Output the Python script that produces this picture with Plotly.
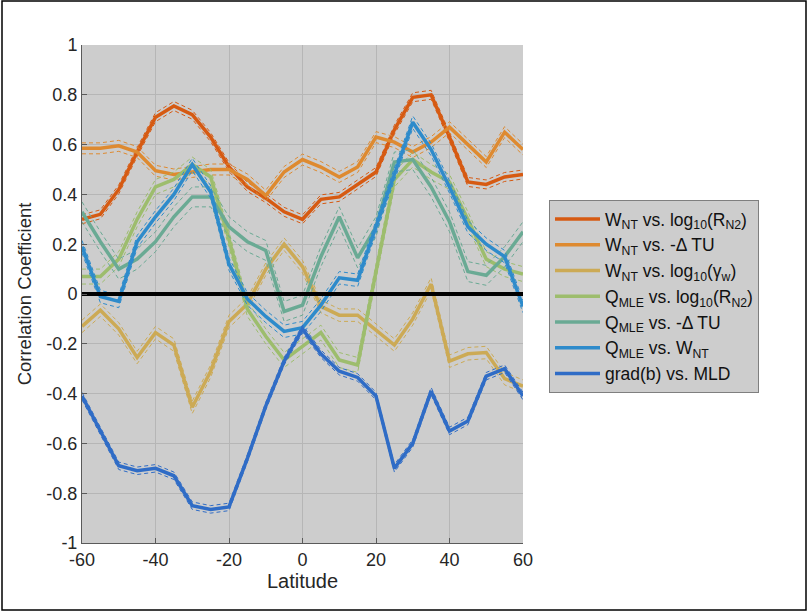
import plotly.graph_objects as go

lat = [-60, -55, -50, -45, -40, -35, -30, -25, -20, -15, -10, -5, 0,
       5, 10, 15, 20, 25, 30, 35, 40, 45, 50, 55, 60]

s_wnt_rn2 = [0.30, 0.32, 0.42, 0.57, 0.71, 0.755, 0.72, 0.63, 0.51, 0.43, 0.385, 0.33, 0.30,
             0.38, 0.39, 0.44, 0.49, 0.66, 0.79, 0.80, 0.63, 0.45, 0.44, 0.47, 0.48]
s_wnt_dtu = [0.585, 0.585, 0.595, 0.57, 0.495, 0.48, 0.49, 0.50, 0.50, 0.46, 0.395, 0.49, 0.54,
             0.51, 0.47, 0.51, 0.63, 0.61, 0.57, 0.61, 0.67, 0.60, 0.53, 0.65, 0.58]
s_wnt_gam = [-0.13, -0.065, -0.14, -0.255, -0.155, -0.205, -0.455, -0.31, -0.11, -0.04, 0.10, 0.20, 0.11,
             -0.05, -0.085, -0.085, -0.145, -0.205, -0.10, 0.04, -0.27, -0.24, -0.235, -0.34, -0.37]
s_q_rn2 = [0.07, 0.07, 0.14, 0.30, 0.43, 0.46, 0.52, 0.47, 0.22, -0.06, -0.17, -0.265, -0.21,
           -0.155, -0.265, -0.285, 0.09, 0.46, 0.54, 0.49, 0.45, 0.30, 0.14, 0.10, 0.08]
s_q_dtu = [0.33, 0.21, 0.10, 0.14, 0.21, 0.31, 0.39, 0.39, 0.27, 0.21, 0.175, -0.07, -0.045,
           0.15, 0.31, 0.145, 0.27, 0.53, 0.54, 0.43, 0.29, 0.09, 0.075, 0.15, 0.25]
s_q_wnt = [0.19, -0.01, -0.03, 0.21, 0.31, 0.40, 0.52, 0.41, 0.12, -0.02, -0.09, -0.15, -0.135,
           -0.045, 0.065, 0.055, 0.27, 0.48, 0.69, 0.58, 0.43, 0.27, 0.20, 0.15, -0.05]
s_gradb = [-0.41, -0.55, -0.69, -0.71, -0.70, -0.73, -0.85, -0.865, -0.855, -0.66, -0.45, -0.27, -0.14,
           -0.24, -0.31, -0.335, -0.41, -0.70, -0.60, -0.39, -0.55, -0.51, -0.33, -0.30, -0.41]

# half-width of the dashed confidence envelope for each series
ci = [0.018, 0.022, 0.025, 0.03, 0.04, 0.025, 0.015]

names = [
    "W<sub>NT</sub> vs. log<sub>10</sub>(R<sub>N2</sub>)",
    "W<sub>NT</sub> vs. -Δ TU",
    "W<sub>NT</sub> vs. log<sub>10</sub>(γ<sub>w</sub>)",
    "Q<sub>MLE</sub> vs. log<sub>10</sub>(R<sub>N2</sub>)",
    "Q<sub>MLE</sub> vs. -Δ TU",
    "Q<sub>MLE</sub> vs. W<sub>NT</sub>",
    "grad(b) vs. MLD",
]
series = [s_wnt_rn2, s_wnt_dtu, s_wnt_gam, s_q_rn2, s_q_dtu, s_q_wnt, s_gradb]
colors = ["#D65A12", "#DE8A30", "#CCAA55", "#9DBD6D", "#6AAA94", "#2E8BCB", "#2F6CC6"]

xticks = [-60, -40, -20, 0, 20, 40, 60]
xticklabels = ["-60", "-40", "-20", "0", "20", "40", "60"]
yticks = [-1, -0.8, -0.6, -0.4, -0.2, 0, 0.2, 0.4, 0.6, 0.8, 1]
yticklabels = ["-1", "-0.8", "-0.6", "-0.4", "-0.2", "0", "0.2", "0.4", "0.6", "0.8", "1"]

fig = go.Figure()
for name, vals, c, e in zip(names, series, colors, ci):
    up = [v + e for v in vals]
    lo = [v - e for v in vals]
    for b in (up, lo):
        fig.add_trace(go.Scatter(x=lat, y=b, mode="lines", showlegend=False, hoverinfo="skip",
                                 line=dict(color=c, width=1, dash="4px,3px")))
    fig.add_trace(go.Scatter(x=lat, y=vals, mode="lines", name=name,
                             line=dict(color=c, width=3.5)))

fig.add_trace(go.Scatter(x=[lat[0], lat[-1]], y=[0, 0], mode="lines", showlegend=False,
                         line=dict(color="black", width=4)))

W, H = 809, 613
L, R, T, B = 82, 286, 45, 70
pw, ph = W - L - R, H - T - B

fig.update_layout(
    width=W, height=H,
    margin=dict(l=L, r=R, t=T, b=B),
    paper_bgcolor="white",
    plot_bgcolor="#CDCDCD",
    font=dict(family="Liberation Sans, Arial, sans-serif", size=18, color="#262626"),
    xaxis=dict(range=[-60, 60], tickvals=xticks, ticktext=xticklabels,
               showgrid=True, gridcolor="#B6B6B6", gridwidth=1, zeroline=False,
               showline=True, linecolor="#5A5A5A", linewidth=1, ticks="inside", ticklen=5,
               tickcolor="#5A5A5A", tickfont=dict(size=18),
               title=dict(text="Latitude", font=dict(size=20), standoff=2)),
    yaxis=dict(range=[-1, 1], tickvals=yticks, ticktext=yticklabels,
               showgrid=True, gridcolor="#B6B6B6", gridwidth=1, zeroline=False,
               showline=True, linecolor="#5A5A5A", linewidth=1, ticks="inside", ticklen=5,
               tickcolor="#5A5A5A", tickfont=dict(size=18),
               title=dict(text="Correlation Coefficient", font=dict(size=18.5), standoff=9)),
    legend=dict(x=(549 - L) / pw, y=(H - B - 200) / ph, xanchor="left", yanchor="top",
                bgcolor="#CDCDCD", bordercolor="#7F7F7F", borderwidth=1,
                font=dict(size=17.5, color="#111111"), itemwidth=45, tracegroupgap=0),
    shapes=[dict(type="rect", xref="paper", yref="paper",
                 x0=-(L - 2) / pw, x1=1 + (806 - (W - R)) / pw,
                 y0=-(B - 3) / ph, y1=1 + (T - 1) / ph,
                 line=dict(color="black", width=1.5), fillcolor="rgba(0,0,0,0)")],
    showlegend=True,
)

fig.write_html("out.html")
